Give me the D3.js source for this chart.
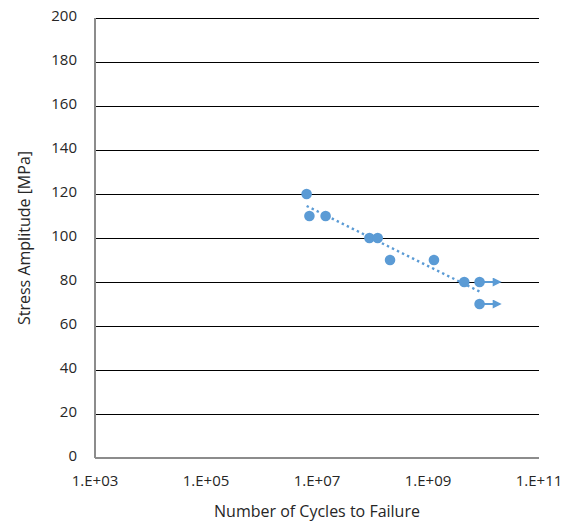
<!DOCTYPE html>
<html>
<head>
<meta charset="utf-8">
<script src="https://cdn.jsdelivr.net/npm/d3@7"></script>
<style>
  body { margin: 0; background: #fff; }
  text { font-family: "Open Sans", sans-serif; fill: #262626; }
</style>
</head>
<body>
<div id="chart"></div>
<script>
// ---- data ----
const cycles = [6.5e6, 7.3e6, 1.43e7, 8.8e7, 1.24e8, 2.07e8, 1.28e9, 4.5e9, 8.5e9, 8.5e9];
const stress = [120, 110, 110, 100, 100, 90, 90, 80, 80, 70];
const runout = [false, false, false, false, false, false, false, false, true, true];
const xTicks = [1e3, 1e5, 1e7, 1e9, 1e11];
const yTicks = [0, 20, 40, 60, 80, 100, 120, 140, 160, 180, 200];

const width = 562, height = 522;
const margin = { top: 18, right: 23, bottom: 64, left: 95 };
const blue = "#5b9bd5";

const svg = d3.select("#chart").append("svg")
  .attr("width", width)
  .attr("height", height);

const x = d3.scaleLog().domain([1e3, 1e11]).range([margin.left, width - margin.right]);
const y = d3.scaleLinear().domain([0, 200]).range([height - margin.bottom, margin.top]);

// gridlines
svg.append("g")
  .selectAll("line")
  .data(yTicks.filter(t => t > 0))
  .join("line")
  .attr("x1", x(1e3)).attr("x2", x(1e11))
  .attr("y1", d => y(d) + 0.5).attr("y2", d => y(d) + 0.5)
  .attr("stroke", "#000").attr("stroke-width", 1)
  .attr("shape-rendering", "crispEdges");

// axis lines
svg.append("line")
  .attr("x1", x(1e3)).attr("x2", x(1e11))
  .attr("y1", y(0)).attr("y2", y(0))
  .attr("stroke", "#8c8c8c").attr("stroke-width", 2)
  .attr("shape-rendering", "crispEdges");
svg.append("line")
  .attr("x1", x(1e3)).attr("x2", x(1e3))
  .attr("y1", y(0)).attr("y2", y(200))
  .attr("stroke", "#8c8c8c").attr("stroke-width", 2)
  .attr("shape-rendering", "crispEdges");

// tick labels
svg.append("g")
  .selectAll("text")
  .data(yTicks)
  .join("text")
  .attr("x", 77)
  .attr("y", d => y(d) - 2)
  .attr("dy", "0.35em")
  .attr("text-anchor", "end")
  .style("font-size", "15px")
  .text(d => d);

svg.append("g")
  .selectAll("text")
  .data(xTicks)
  .join("text")
  .attr("x", d => x(d))
  .attr("y", 481)
  .attr("dy", "0.35em")
  .attr("text-anchor", "middle")
  .style("font-size", "15px")
  .text(d => "1.E+" + String(Math.round(Math.log10(d))).padStart(2, "0"));

// axis titles
svg.append("text")
  .attr("x", (x(1e3) + x(1e11)) / 2)
  .attr("y", 511)
  .attr("dy", "0.35em")
  .attr("text-anchor", "middle")
  .style("font-size", "16px")
  .text("Number of Cycles to Failure");

svg.append("text")
  .attr("transform", "translate(24," + ((y(0) + y(200)) / 2) + ") rotate(-90)")
  .attr("dy", "0.35em")
  .attr("text-anchor", "middle")
  .style("font-size", "16px")
  .text("Stress Amplitude [MPa]");

// trendline: least squares of stress on log10(cycles)
const pts = cycles.map((c, i) => ({ lx: Math.log10(c), s: stress[i] }));
const mx = d3.mean(pts, p => p.lx), my = d3.mean(pts, p => p.s);
const slope = d3.sum(pts, p => (p.lx - mx) * (p.s - my)) / d3.sum(pts, p => (p.lx - mx) ** 2);
const icpt = my - slope * mx;
const [lo, hi] = d3.extent(cycles);

svg.append("line")
  .attr("x1", x(lo)).attr("y1", y(icpt + slope * Math.log10(lo)))
  .attr("x2", x(hi)).attr("y2", y(icpt + slope * Math.log10(hi)))
  .attr("stroke", blue)
  .attr("stroke-width", 2.4)
  .attr("stroke-dasharray", "2.4,3.2");

// run-out arrows
const defs = svg.append("defs");
defs.append("marker")
  .attr("id", "arrow")
  .attr("viewBox", "0 0 10 10")
  .attr("refX", 1).attr("refY", 5)
  .attr("markerUnits", "userSpaceOnUse")
  .attr("markerWidth", 10).attr("markerHeight", 9)
  .attr("orient", "auto")
  .append("path")
  .attr("d", "M0,0 L10,5 L0,10 Z")
  .attr("fill", blue);

const idx = d3.range(cycles.length);
svg.append("g")
  .selectAll("line")
  .data(idx.filter(i => runout[i]))
  .join("line")
  .attr("x1", i => x(cycles[i])).attr("x2", i => x(cycles[i]) + 14)
  .attr("y1", i => y(stress[i])).attr("y2", i => y(stress[i]))
  .attr("stroke", blue).attr("stroke-width", 2)
  .attr("marker-end", "url(#arrow)");

// points
svg.append("g")
  .selectAll("circle")
  .data(idx)
  .join("circle")
  .attr("cx", i => x(cycles[i]))
  .attr("cy", i => y(stress[i]))
  .attr("r", 5.3)
  .attr("fill", blue);
</script>
</body>
</html>
